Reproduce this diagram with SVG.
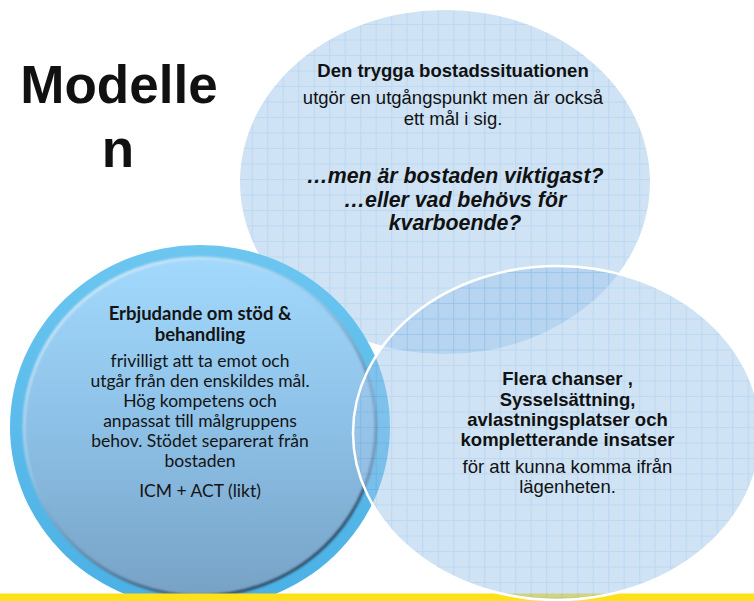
<svg xmlns="http://www.w3.org/2000/svg" width="754" height="601" viewBox="0 0 754 601">
<style>
.ar{font-family:"Liberation Sans",Arial,sans-serif;fill:#111;text-anchor:middle}
.b{font-weight:bold}
.bi{font-weight:bold;font-style:italic}
.gs{font-family:Lato,"Open Sans",sans-serif;fill:#141414;text-anchor:middle}
</style>
<defs>
<pattern id="grid" patternUnits="userSpaceOnUse" x="3.7" y="8.5" width="15.5" height="15.5">
<rect width="15.5" height="15.5" fill="#9FC6EA"/>
<path d="M0 0.5H15.5M0.5 0V15.5" stroke="#78B2E4" stroke-width="1" fill="none"/>
</pattern>
<linearGradient id="ring" x1="0" y1="0" x2="0" y2="1">
<stop offset="0" stop-color="#6CC6F0"/>
<stop offset="1" stop-color="#4AB0E4"/>
</linearGradient>
<linearGradient id="inner" x1="0" y1="0" x2="0" y2="1">
<stop offset="0" stop-color="#A3D9FD"/>
<stop offset="0.5" stop-color="#8DC0E6"/>
<stop offset="1" stop-color="#77A2C6"/>
</linearGradient>
<linearGradient id="edge" x1="0" y1="0" x2="0.6" y2="1">
<stop offset="0" stop-color="#E6F6FF"/>
<stop offset="0.45" stop-color="#9CCBEB"/>
<stop offset="1" stop-color="#2F4B66"/>
</linearGradient>
<filter id="soft" x="-5%" y="-5%" width="110%" height="110%">
<feGaussianBlur stdDeviation="1.2"/>
</filter>
</defs>
<rect width="754" height="601" fill="#FFFFFF"/>
<g id="title">
<text class="ar b" x="119" y="103" font-size="53">Modelle</text>
<text class="ar b" x="118" y="167" font-size="53">n</text>
</g>
<g id="node-top">
<ellipse cx="445" cy="182" rx="205" ry="172" fill="url(#grid)" opacity="0.5"/>
<text class="ar b" x="453" y="77" font-size="18.5">Den trygga bostadssituationen</text>
<text class="ar" x="453" y="104" font-size="18.5">utgör en utgångspunkt men är också</text>
<text class="ar" x="453" y="124.5" font-size="18.5">ett mål i sig.</text>
<text class="ar bi" x="455" y="183" font-size="21.3">…men är bostaden viktigast?</text>
<text class="ar bi" x="455" y="206.5" font-size="21.3">…eller vad behövs för</text>
<text class="ar bi" x="455" y="229.5" font-size="21.3">kvarboende?</text>
</g>
<g id="node-left">
<ellipse cx="200" cy="427" rx="190" ry="182" fill="url(#ring)"/>
<ellipse cx="200" cy="427" rx="176" ry="169" fill="url(#inner)"/>
<ellipse cx="200" cy="427" rx="176" ry="169" fill="none" stroke="url(#edge)" stroke-width="3" filter="url(#soft)"/>
<text class="gs b" x="200" y="319.5" font-size="18.5">Erbjudande om stöd &amp;</text>
<text class="gs b" x="200" y="340.5" font-size="18.5">behandling</text>
<text class="gs" x="200" y="367" font-size="17.5">frivilligt att ta emot och</text>
<text class="gs" x="200" y="387" font-size="17.5">utgår från den enskildes mål.</text>
<text class="gs" x="200" y="407" font-size="17.5">Hög kompetens och</text>
<text class="gs" x="200" y="427" font-size="17.5">anpassat till målgruppens</text>
<text class="gs" x="200" y="447" font-size="17.5">behov. Stödet separerat från</text>
<text class="gs" x="200" y="467" font-size="17.5">bostaden</text>
<text class="gs" x="200" y="497" font-size="17.5">ICM + ACT (likt)</text>
</g>
<rect id="bar" x="0" y="593.5" width="754" height="7.5" fill="#FFE01B"/>
<g id="node-right">
<ellipse cx="557" cy="433" rx="204" ry="167" fill="url(#grid)" opacity="0.5"/>
<ellipse cx="557" cy="433" rx="204" ry="167" fill="none" stroke="#FFFFFF" stroke-width="2.5"/>
<text class="ar b" x="567.5" y="385" font-size="18.5">Flera chanser ,</text>
<text class="ar b" x="567.5" y="405.5" font-size="18.5">Sysselsättning,</text>
<text class="ar b" x="567.5" y="425.5" font-size="18.5">avlastningsplatser och</text>
<text class="ar b" x="567.5" y="445.5" font-size="18.5">kompletterande insatser</text>
<text class="ar" x="567.5" y="473.3" font-size="18.5">för att kunna komma ifrån</text>
<text class="ar" x="567.5" y="493.3" font-size="18.5">lägenheten.</text>
</g>
<g id="connectors"/>
</svg>
